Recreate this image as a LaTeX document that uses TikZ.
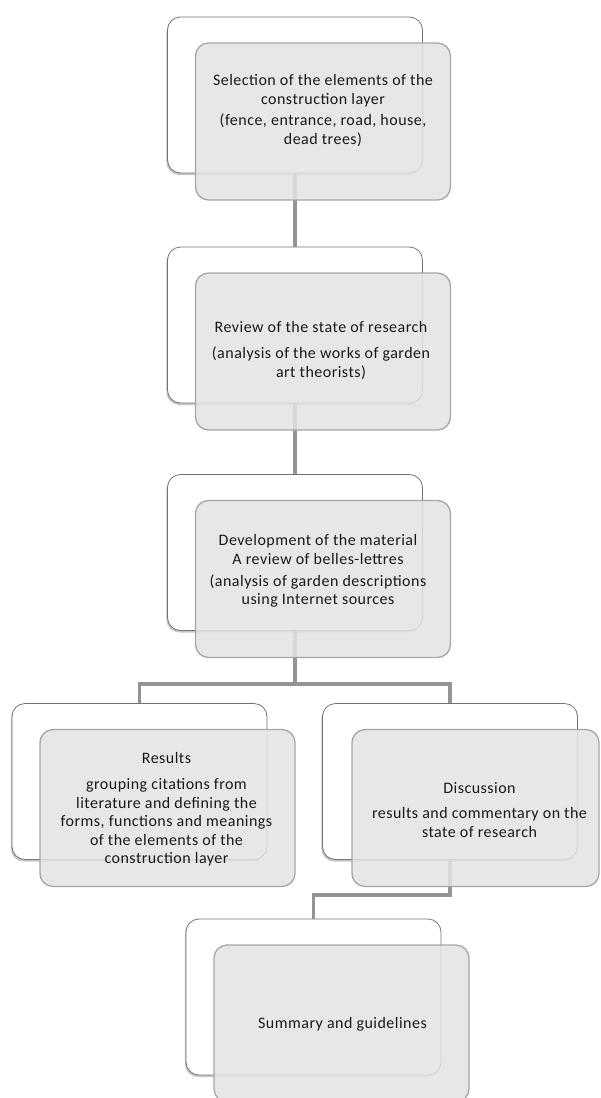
\documentclass[tikz,border=0pt]{standalone}
\usepackage{fontspec}
\setmainfont{Carlito}[LetterSpace=3]
\usetikzlibrary{positioning,shadows}

\tikzset{
	backbox/.style={draw=black!55, fill=white, rounded corners=13pt, inner sep=0pt,
		minimum width=255pt, minimum height=156pt, line width=0.8pt,
		drop shadow={shadow xshift=-1.2pt, shadow yshift=-2pt, opacity=0.45}},
	frontbox/.style={draw=black!35, fill=black!11, fill opacity=0.85, rounded corners=13pt,
		inner sep=0pt, minimum width=255pt, minimum height=157pt, line width=1.3pt},
	link/.style={draw=black!42, line width=3.6pt},
	boxtext/.style={align=center, text=black!90, font=\fontsize{16}{18.5}\selectfont}
}

\begin{document}
\begin{tikzpicture}[x=1pt, y=-1pt]
			%%%%% START %%%%%
			\useasboundingbox (0, 0) rectangle (600, 1098);
			
			% back boxes
			\node[backbox] (b1) at (295, 95) {};
			\node[backbox] (b2) at (295, 325) {};
			\node[backbox] (b3) at (295, 552.5) {};
			\node[backbox] (b4) at (139.5, 781.5) {};
			\node[backbox] (b5) at (450, 781.5) {};
			\node[backbox] (b6) at (313.5, 997) {};
			
			% connectors
			\coordinate (j3) at (295, 684);
			\coordinate (j5) at (450, 895);
			\draw[link] (b1.south) -- (b2.north);
			\draw[link] (b2.south) -- (b3.north);
			\draw[link] (b3.south) -- (j3);
			\draw[link] (b4.north) |- (j3) -| (b5.north);
			\draw[link] (b5.south) -- (j5) -| (b6.north);
			
			% front boxes
			\node[frontbox] (f1) at ([shift={(28, 26.5)}]b1.center) {};
			\node[frontbox] (f2) at ([shift={(28, 26.5)}]b2.center) {};
			\node[frontbox] (f3) at ([shift={(28, 26.5)}]b3.center) {};
			\node[frontbox] (f4) at ([shift={(28, 26.5)}]b4.center) {};
			\node[frontbox, minimum width=247pt] (f5) at ([shift={(25.5, 26.5)}]b5.center) {};
			\node[frontbox] (f6) at ([shift={(28, 26.5)}]b6.center) {};
			
			% texts
			\node[boxtext] (t1) at ([shift={(0, -11)}]f1.center)
				{Selection of the elements of the\\construction layer\\[3pt]
				 (fence, entrance, road, house,\\dead trees)};
			\node[boxtext] (t2) at ([shift={(-2, -1)}]f2.center)
				{Review of the state of research\\[8pt]
				 (analysis of the works of garden\\art theorists)};
			\node[boxtext] (t3) at ([shift={(-5, -8)}]f3.center)
				{Development of the material\\[1pt]A review of belles-lettres\\[3pt]
				 (analysis of garden descriptions\\using Internet sources};
			\node[boxtext] (t4) at ([shift={(-1, 1)}]f4.center)
				{Results\\[8pt]grouping citations from\\literature and defining the\\
				 forms, functions and meanings\\of the elements of the\\construction layer};
			\node[boxtext] (t5) at ([shift={(4, 2)}]f5.center)
				{Discussion\\[7pt]results and commentary on the\\state of research};
			\node[boxtext] (t6) at ([shift={(1, 1)}]f6.center) {Summary and guidelines};
			%%%%% END %%%%%
\end{tikzpicture}
\end{document}
